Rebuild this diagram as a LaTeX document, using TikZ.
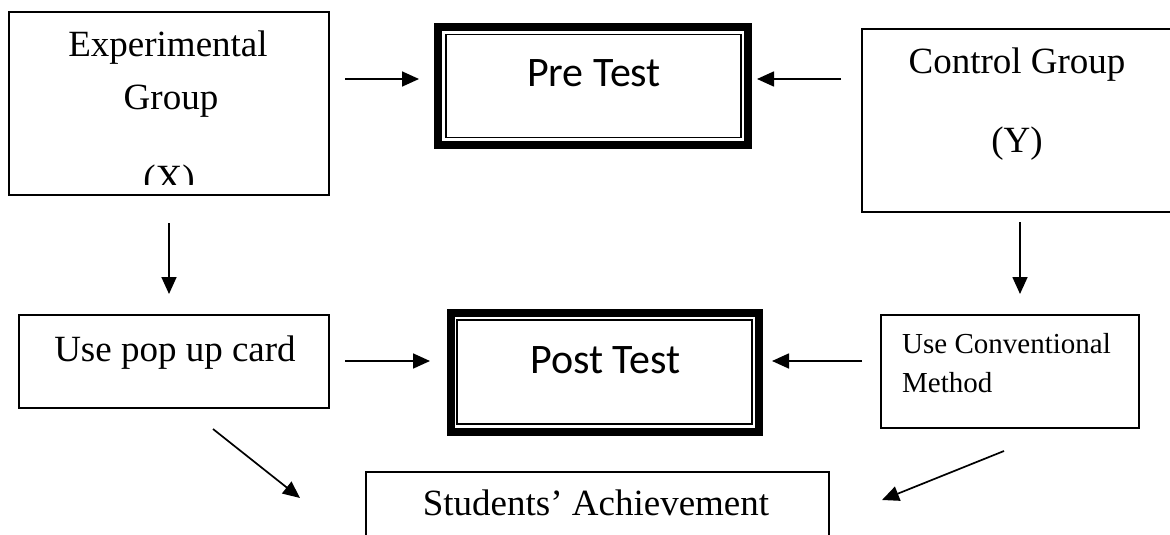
\documentclass[tikz,border=0pt]{standalone}
\usepackage{fontspec}
\setmainfont{Liberation Serif}
\newfontfamily\calfont{Carlito}
\usetikzlibrary{arrows.meta}
\begin{document}
\begin{tikzpicture}[x=1pt,y=-1pt,
  box/.style={draw, line width=1.7pt, inner sep=0pt, outer sep=0pt},
  thickbox/.style={draw, line width=8pt, inner sep=0pt, outer sep=0pt},
  thinbox/.style={draw, line width=1.7pt, inner sep=0pt, outer sep=0pt},
  arr/.style={line width=1.7pt, -{Triangle[length=17pt,width=15pt]}},
  lbl/.style={font=\fontsize{37}{40}\selectfont, inner sep=0pt, anchor=base},
  small/.style={font=\fontsize{29}{32}\selectfont, inner sep=0pt, anchor=base west},
  sans/.style={font=\calfont\fontsize{42}{44}\selectfont, inner sep=0pt, anchor=base}]
\useasboundingbox (0,0) rectangle (1170,535);
\clip (0,0) rectangle (1170,535);

% group and method boxes
\node[box, minimum width=320pt, minimum height=183pt] (exp) at (169,103.5) {};
\node[box, minimum width=314pt, minimum height=183pt] (ctl) at (1019,120.5) {};
\node[box, minimum width=310pt, minimum height=93pt] (pop) at (174,361.5) {};
\node[box, minimum width=258pt, minimum height=113pt] (conv) at (1010,371.5) {};
\node[box, minimum width=463pt, minimum height=78pt] (ach) at (597.5,511) {};

% thick-thin framed test boxes
\node[thickbox, minimum width=310pt, minimum height=118pt] (pre) at (593,86) {};
\node[thinbox, minimum width=295pt, minimum height=103pt] (prein) at (593.5,86) {};
\node[thickbox, minimum width=308pt, minimum height=119pt] (post) at (605,372.5) {};
\node[thinbox, minimum width=295pt, minimum height=104pt] (postin) at (604.8,372) {};

% texts
\node[lbl] (expa) at (168,57) {Experimental};
\node[lbl] (expb) at (171,110) {Group};
\begin{scope}
  \clip (9,12) rectangle (329,184.5);
  \node[lbl] (expc) at (169,190) {(X)};
\end{scope}
\node[lbl] (ctla) at (1017,74) {Control Group};
\node[lbl] (ctlb) at (1017,152) {(Y)};
\node[lbl] (popt) at (175,361) {Use pop up card};
\node[small] (conva) at (902,353) {Use Conventional};
\node[small] (convb) at (902,392) {Method};
\node[lbl] (acht) at (596,515) {Students’ Achievement};
\node[sans] (pret) at (594,86) {Pre Test};
\node[sans] (postt) at (605.5,373) {Post Test};

% arrow end points
\coordinate (a1s) at (345,79);   \coordinate (a1e) at (419,79);
\coordinate (a2s) at (841,79);   \coordinate (a2e) at (757,79);
\coordinate (a3s) at (169,223);  \coordinate (a3e) at (169,294);
\coordinate (a4s) at (1020,222); \coordinate (a4e) at (1020,294);
\coordinate (a5s) at (345,361);  \coordinate (a5e) at (430,361);
\coordinate (a6s) at (862,361);  \coordinate (a6e) at (772,361);
\coordinate (a7s) at (213,429);  \coordinate (a7e) at (300,498);
\coordinate (a8s) at (1004,451); \coordinate (a8e) at (882,500);

\draw[arr] (a1s) -- (a1e);
\draw[arr] (a2s) -- (a2e);
\draw[arr] (a3s) -- (a3e);
\draw[arr] (a4s) -- (a4e);
\draw[arr] (a5s) -- (a5e);
\draw[arr] (a6s) -- (a6e);
\draw[arr] (a7s) -- (a7e);
\draw[arr] (a8s) -- (a8e);
\end{tikzpicture}
\end{document}
